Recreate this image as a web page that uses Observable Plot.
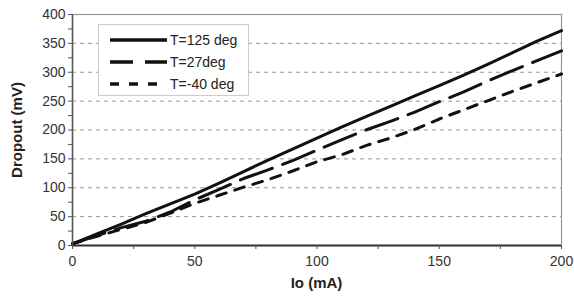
<!DOCTYPE html>
<html><head><meta charset="utf-8">
<script src="https://cdn.jsdelivr.net/npm/d3@7"></script>
<script src="https://cdn.jsdelivr.net/npm/@observablehq/plot@0.6"></script>
<style>
body{margin:0;background:#fff;font-family:"Liberation Sans",Arial,sans-serif;}
#wrap{position:relative;width:574px;height:297px;overflow:hidden;}
#legend{position:absolute;left:98px;top:24px;}
.title{position:absolute;font-weight:bold;font-size:15px;color:#222;white-space:nowrap;}
</style></head><body>
<div id="wrap"><div id="chart"></div><div id="legend"></div>
<div class="title" id="xt">Io (mA)</div>
<div class="title" id="yt">Dropout (mV)</div>
</div>
<script>
// Data
const io    = [0,10,20,30,40,50,60,70,80,90,100,110,120,130,140,150,160,170,180,190,200];
const t125  = [3,20,37,55,72,89,108,128,148,167,186,205,223,241,259,277,295,314,334,354,372];
const t27   = [3,17,31,42,58,79,97,116,131,147,165,183,200,215,231,249,266,285,303,320,337];
const tm40  = [3,16,28,40,56,73,87,101,114,129,145,157,173,186,201,219,235,251,267,282,297];
const seriesNames = ["T=125 deg", "T=27deg", "T=-40 deg"];
const seriesDash  = [null, "34,11", "10,9"];
const yTicks = d3.range(0, 401, 25);
const xTicks = d3.range(0, 201, 25);
const gridVals = d3.range(50, 351, 50);

const seriesVals = [t125, t27, tm40];
const data = seriesVals.flatMap((vals, s) => vals.map((v, i) => ({series: seriesNames[s], io: io[i], mv: v})));

const W = 574, H = 297;
const chart = Plot.plot({
  width: W, height: H,
  marginLeft: 72, marginRight: 13, marginTop: 14, marginBottom: 52,
  style: {fontSize: "14px", fontFamily: "Liberation Sans, Arial, sans-serif", color: "#333", background: "#fff"},
  x: {domain: [0, 200]},
  y: {domain: [0, 400]},
  marks: [
    Plot.gridY(gridVals, {stroke: "#999", strokeOpacity: 1, strokeDasharray: "4,4"}),
    Plot.frame({stroke: "#999", strokeWidth: 1.2}),
    ...seriesNames.map((name, s) => Plot.line(data.filter(d => d.series === name), {
      x: "io", y: "mv", stroke: "#111", strokeWidth: 3,
      strokeDasharray: seriesDash[s] || undefined, strokeLinejoin: "round"
    })),
    Plot.ruleX([0], {stroke: "#555", strokeWidth: 1.5}),
    Plot.ruleY([0], {stroke: "#333", strokeWidth: 2.2}),
    Plot.axisY({ticks: yTicks, tickFormat: d => d % 50 === 0 ? d : "", tickSize: 4, tickPadding: 3, label: null, stroke: "#555", fontSize: 14}),
    Plot.axisX({ticks: xTicks, tickFormat: d => d % 50 === 0 ? d : "", tickSize: 4, tickPadding: 7, label: null, stroke: "#555", fontSize: 14})
  ]
});
document.getElementById("chart").appendChild(chart);

// Axis titles
const xt = document.getElementById("xt");
xt.style.left = (72 + (561 - 72) / 2) + "px";
xt.style.top = "274px";
xt.style.transform = "translateX(-50%)";
const yt = document.getElementById("yt");
yt.style.left = "16px";
yt.style.top = ((14 + 245) / 2) + "px";
yt.style.transform = "translate(-50%,-50%) rotate(-90deg)";

// Legend
const lg = d3.select("#legend").append("svg").attr("width", 151).attr("height", 72);
lg.append("rect").attr("x", 0.5).attr("y", 0.5).attr("width", 150).attr("height", 71)
  .attr("fill", "#fff").attr("stroke", "#ccc");
seriesNames.forEach((name, s) => {
  const yy = 16 + s * 22;
  lg.append("line").attr("x1", 12).attr("x2", 69).attr("y1", yy).attr("y2", yy)
    .attr("stroke", "#111").attr("stroke-width", 3.5)
    .attr("stroke-dasharray", s === 0 ? null : (s === 1 ? "23,12" : "9,10"));
  lg.append("text").attr("x", 72).attr("y", yy).attr("dy", "0.35em")
    .attr("font-size", 14).attr("fill", "#222")
    .attr("font-family", "Liberation Sans, Arial, sans-serif").text(name);
});
</script>
</body></html>
